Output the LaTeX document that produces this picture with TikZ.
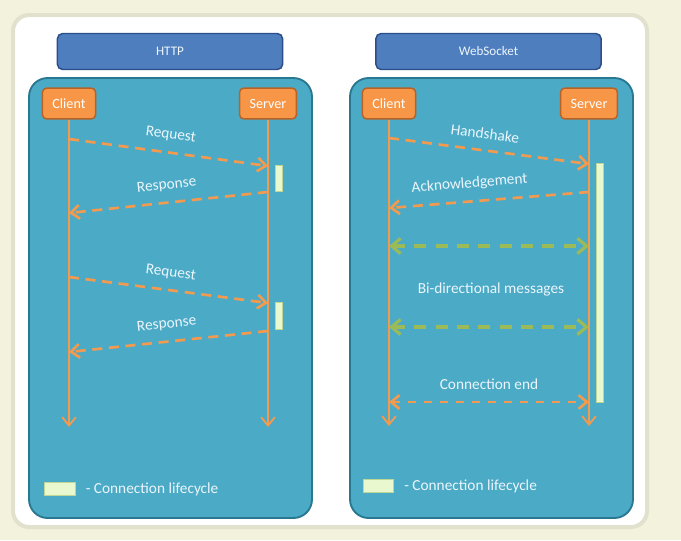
\documentclass[tikz,border=0pt]{standalone}
\usepackage{fontspec}
\setmainfont{Carlito}
\usetikzlibrary{arrows.meta,positioning,calc}
\definecolor{bgcream}{RGB}{243,243,221}
\definecolor{frameln}{RGB}{225,225,205}
\definecolor{ttlblue}{RGB}{79,126,190}
\definecolor{ttlline}{RGB}{44,78,138}
\definecolor{tealbg}{RGB}{75,170,198}
\definecolor{tealln}{RGB}{40,120,145}
\definecolor{orng}{RGB}{247,150,70}
\definecolor{orngln}{RGB}{185,98,38}
\definecolor{msgor}{RGB}{242,155,80}
\definecolor{msggr}{RGB}{155,187,89}
\definecolor{lifec}{RGB}{234,248,208}
\definecolor{lifeln}{RGB}{190,215,150}
\definecolor{txtw}{RGB}{236,246,252}
\tikzset{
  ttl/.style={draw=ttlline, fill=ttlblue, rounded corners=4pt, line width=1.1pt,
              text=txtw, font=\fontsize{9.8}{12}\selectfont, minimum width=169pt, minimum height=27pt},
  pan/.style={draw=tealln, fill=tealbg, rounded corners=14pt, line width=1.4pt},
  actor/.style={draw=orngln, fill=orng, rounded corners=3pt, line width=1.1pt,
                text=white, font=\fontsize{10.6}{12}\selectfont, inner xsep=7.5pt, minimum height=23pt},
  life/.style={-{Straight Barb[length=2.2mm,width=3.6mm]}, msgor, line width=1.4pt},
  msg/.style={-{Straight Barb[length=2.2mm,width=3.6mm]}, msgor, line width=2pt,
              dash pattern=on 7.5pt off 5pt},
  bimsg/.style={{Straight Barb[length=2.4mm,width=4mm]}-{Straight Barb[length=2.4mm,width=4mm]},
                msggr, line width=2.4pt, dash pattern=on 9pt off 7pt},
  endmsg/.style={{Straight Barb[length=2.2mm,width=3.6mm]}-{Straight Barb[length=2.2mm,width=3.6mm]},
                 msgor, line width=2pt, dash pattern=on 6pt off 6pt},
  mlab/.style={text=txtw, font=\fontsize{11.5}{13}\selectfont, sloped, above=4pt},
  cyc/.style={draw=lifeln, fill=lifec, line width=0.6pt},
  key/.style={cyc, minimum width=23pt, minimum height=10pt, inner sep=0pt},
  keytxt/.style={text=txtw, font=\fontsize{11.5}{13}\selectfont},
}

\begin{document}
\begin{tikzpicture}[x=0.75pt, y=-0.75pt]
  \useasboundingbox[fill=bgcream] (0,0) rectangle (681,540);
  \draw[frameln, line width=3pt, fill=white, rounded corners=12pt] (13,15) rectangle (647,527);

  % HTTP
  \node[ttl] (httpttl) at (170,51.5) {HTTP};
  \draw[pan] (29,78) rectangle (312,518);
  \node[actor] (hcl) at (69,103.5) {Client};
  \node[actor] (hsv) at (268,103.5) {Server};
  \coordinate (hclend) at (69,427);
  \coordinate (hsvend) at (268,427);
  \draw[life] (hcl) -- (hclend);
  \draw[life] (hsv) -- (hsvend);
  \draw[msg] (hcl |- 0,139) -- node[mlab] {Request} (hsv |- 0,166);
  \draw[msg] (hsv |- 0,192) -- node[mlab] {Response} (hcl |- 0,213);
  \draw[msg] (hcl |- 0,277) -- node[mlab] {Request} (hsv |- 0,303);
  \draw[msg] (hsv |- 0,331) -- node[mlab] {Response} (hcl |- 0,352);
  \draw[cyc] (275,165) rectangle (282,191);
  \draw[cyc] (275,302) rectangle (282,329);
  \node[key] (hkey) at (60,489) {};
  \node[keytxt, right=4pt of hkey] (hkeytxt) {- Connection lifecycle};

  % WebSocket
  \node[ttl] (wsttl) at (488.5,51.5) {WebSocket};
  \draw[pan] (350,78) rectangle (633,518);
  \node[actor] (wcl) at (389,103.5) {Client};
  \node[actor] (wsv) at (589,103.5) {Server};
  \coordinate (wclend) at (389,426);
  \coordinate (wsvend) at (589,426);
  \draw[life] (wcl) -- (wclend);
  \draw[life] (wsv) -- (wsvend);
  \draw[cyc] (596,163) rectangle (603,402);
  \draw[msg] (wcl |- 0,138) -- node[mlab, pos=0.47] {Handshake} (wsv |- 0,164);
  \draw[msg] (wsv |- 0,192) -- node[mlab, pos=0.59] {Acknowledgement} (wcl |- 0,208);
  \draw[bimsg] (wcl |- 0,246) -- (wsv |- 0,246);
  \draw[bimsg] (wcl |- 0,327) -- (wsv |- 0,327);
  \node[keytxt] (bilab) at (491,289) {Bi-directional messages};
  \draw[endmsg] (wcl |- 0,402) -- node[mlab, above=5pt] {Connection end} (wsv |- 0,402);
  \node[key] (wkey) at (378.5,486) {};
  \node[keytxt, right=4pt of wkey] (wkeytxt) {- Connection lifecycle};
\end{tikzpicture}
\end{document}
